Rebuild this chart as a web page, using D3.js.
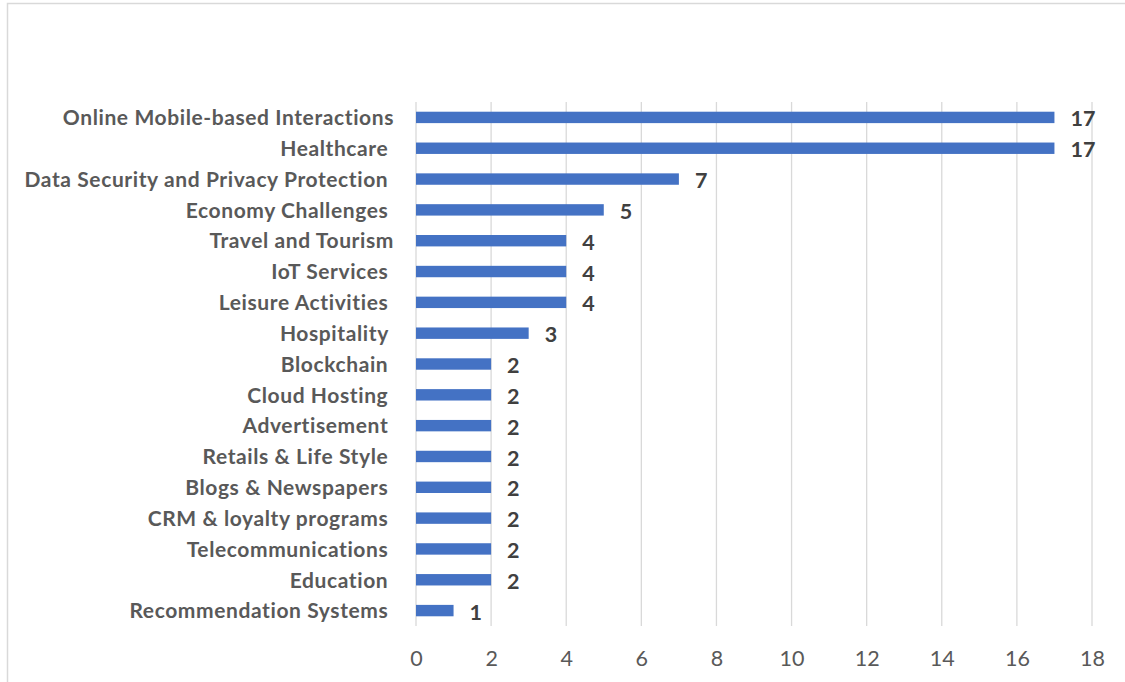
<!DOCTYPE html>
<html>
<head>
<meta charset="utf-8">
<script src="https://cdn.jsdelivr.net/npm/d3@7"></script>
<style>
  html, body { margin: 0; padding: 0; background: #fff; }
  svg { display: block; }
  text { white-space: pre; }
</style>
</head>
<body>
<svg id="chart" width="1125" height="682"></svg>
<script>
// Application areas and number of studies
const categories = [
  "Online Mobile-based Interactions",
  "Healthcare ",
  "Data Security and Privacy Protection ",
  "Economy Challenges ",
  "Travel and Tourism",
  "IoT Services ",
  "Leisure Activities ",
  "Hospitality ",
  "Blockchain ",
  "Cloud Hosting ",
  "Advertisement ",
  "Retails & Life Style ",
  "Blogs & Newspapers ",
  "CRM & loyalty programs ",
  "Telecommunications ",
  "Education ",
  "Recommendation Systems "
];
const counts = [17, 17, 7, 5, 4, 4, 4, 3, 2, 2, 2, 2, 2, 2, 2, 2, 1];
const xTicks = [0, 2, 4, 6, 8, 10, 12, 14, 16, 18];

const svg = d3.select("#chart");
const W = 1125, H = 682;
const plot = { left: 416, right: 1092, top: 102, bottom: 626 };
const font = "Lato, 'Open Sans', sans-serif";

// Chart frame
svg.append("path")
  .attr("d", `M7.5,${H} V3.5 H${W}`)
  .attr("fill", "none")
  .attr("stroke", "#d9d9d9")
  .attr("stroke-width", 1.5);

const x = d3.scaleLinear().domain([0, 18]).range([plot.left, plot.right]);
const y = d3.scaleBand().domain(categories).range([plot.top, plot.bottom]).paddingInner(0.63).paddingOuter(0.315);

// Vertical gridlines
svg.append("g")
  .selectAll("line")
  .data(xTicks)
  .join("line")
  .attr("x1", d => x(d)).attr("x2", d => x(d))
  .attr("y1", plot.top).attr("y2", plot.bottom)
  .attr("stroke", "#d9d9d9")
  .attr("stroke-width", 1.3);

// Bottom axis labels
const xAxis = d3.axisBottom(x).tickValues(xTicks).tickSize(0).tickPadding(0);
const gx = svg.append("g").attr("transform", `translate(0,${plot.bottom})`).call(xAxis);
gx.select(".domain").remove();
gx.selectAll("text")
  .attr("font-family", font)
  .attr("font-size", 21.5)
  .attr("fill", "#595959")
  .attr("y", 40)
  .attr("dy", 0);

// Category labels
const yAxis = d3.axisLeft(y).tickSize(0).tickPadding(0);
const gy = svg.append("g").attr("transform", `translate(${plot.left - 22},0)`).call(yAxis);
gy.select(".domain").remove();
gy.selectAll("text")
  .attr("font-family", font)
  .attr("font-weight", 700)
  .attr("font-size", 21)
  .attr("letter-spacing", 0.6)
  .attr("fill", "#595959")
  .attr("dy", "0.37em");

// Bars
svg.append("g")
  .selectAll("rect")
  .data(categories)
  .join("rect")
  .attr("x", x(0))
  .attr("y", d => y(d))
  .attr("width", (d, i) => x(counts[i]) - x(0))
  .attr("height", y.bandwidth())
  .attr("fill", "#4472c4");

// Value labels
svg.append("g")
  .selectAll("text")
  .data(categories)
  .join("text")
  .attr("x", (d, i) => x(counts[i]) + 16)
  .attr("y", d => y(d) + y.bandwidth() / 2)
  .attr("dy", "0.42em")
  .attr("font-family", font)
  .attr("font-weight", 700)
  .attr("font-size", 21.5)
  .attr("fill", "#404040")
  .text((d, i) => counts[i]);
</script>
</body>
</html>
